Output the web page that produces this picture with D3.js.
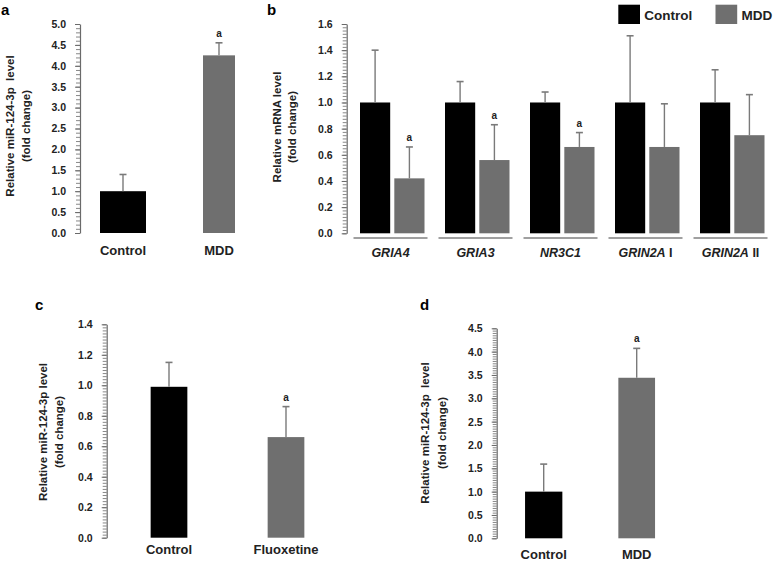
<!DOCTYPE html>
<html><head><meta charset="utf-8">
<script src="https://cdn.jsdelivr.net/npm/d3@7"></script>
<style>
html,body{margin:0;padding:0;background:#fff;}
svg{display:block;font-family:"Liberation Sans",Arial,sans-serif;}
</style></head>
<body>
<svg id="chart" width="779" height="561"></svg>
<script>
// ---------- DATA ----------
// Panel a
const aCategories = ["Control", "MDD"];
const aValues = [1.00, 4.25];
const aErrors = [0.40, 0.30];
const aSignif = [false, true];
const aTicks = [0, 0.5, 1.0, 1.5, 2.0, 2.5, 3.0, 3.5, 4.0, 4.5, 5.0];

// Panel b
const bGenes = ["GRIA4", "GRIA3", "NR3C1", "GRIN2A I", "GRIN2A II"];
const bGeneItalic = ["GRIA4", "GRIA3", "NR3C1", "GRIN2A", "GRIN2A"];
const bGeneSuffix = ["", "", "", " I", " II"];
const bSeries = ["Control", "MDD"];
const bControl = [1.00, 1.00, 1.00, 1.00, 1.00];
const bControlErr = [0.40, 0.16, 0.08, 0.51, 0.25];
const bMDD = [0.42, 0.56, 0.66, 0.66, 0.75];
const bMDDErr = [0.24, 0.27, 0.11, 0.33, 0.31];
const bSignif = [true, true, true, false, false];
const bTicks = [0, 0.2, 0.4, 0.6, 0.8, 1.0, 1.2, 1.4, 1.6];

// Panel c
const cCategories = ["Control", "Fluoxetine"];
const cValues = [0.99, 0.66];
const cErrors = [0.16, 0.20];
const cSignif = [false, true];
const cTicks = [0, 0.2, 0.4, 0.6, 0.8, 1.0, 1.2, 1.4];

// Panel d
const dCategories = ["Control", "MDD"];
const dValues = [1.00, 3.44];
const dErrors = [0.59, 0.63];
const dSignif = [false, true];
const dTicks = [0, 0.5, 1.0, 1.5, 2.0, 2.5, 3.0, 3.5, 4.0, 4.5];

const yTitleMiR = ["Relative miR-124-3p  level", "(fold change)"];
const yTitleMiRc = ["Relative miR-124-3p level", "(fold change)"];
const yTitleMRNA = ["Relative mRNA level", "(fold change)"];

// ---------- STYLE ----------
const FONT = "'Liberation Sans', Arial, sans-serif";
const TXT = "#222222";
const BLACK = "#000000";
const GRAY = "#6f6f6f";
const ERR = "#7a7a7a";
const AXIS = "#6a6a6a";
const colors = {Control: BLACK, MDD: GRAY, Fluoxetine: GRAY};

const svg = d3.select("#chart");

function drawYAxis(x0, y, ticks, minorStep, fontSize) {
  const top = d3.max(ticks);
  const minors = d3.range(0, top + minorStep / 2, minorStep);
  const g = svg.append("g").attr("transform", `translate(${x0},0)`);
  g.call(d3.axisLeft(y).tickValues(minors).tickSize(4).tickSizeOuter(0).tickFormat(""));
  g.selectAll("path.domain").attr("stroke", AXIS).attr("stroke-width", 1.2);
  g.selectAll(".tick line").attr("stroke", AXIS).attr("stroke-width", 0.8);
  const g2 = svg.append("g").attr("transform", `translate(${x0},0)`);
  g2.call(d3.axisLeft(y).tickValues(ticks).tickSize(5).tickPadding(9).tickSizeOuter(0).tickFormat(d3.format(".1f")));
  g2.select("path.domain").remove();
  g2.selectAll(".tick line").attr("stroke", AXIS).attr("stroke-width", 1);
  g2.selectAll(".tick text").attr("fill", TXT).attr("font-size", fontSize).attr("font-weight", "bold")
    .attr("font-family", FONT);
}

function drawYTitle(lines, x1, x2, cy, fontSize) {
  [x1, x2].forEach((x, i) => {
    svg.append("text")
      .attr("transform", `translate(${x},${cy}) rotate(-90)`)
      .attr("text-anchor", "middle").attr("dominant-baseline", "central")
      .attr("fill", TXT).attr("font-size", fontSize).attr("font-weight", "bold")
      .style("white-space", "pre")
      .text(lines[i]);
  });
}

function errorBar(cx, yTop, yErr, cap) {
  svg.append("line").attr("x1", cx).attr("x2", cx).attr("y1", yTop).attr("y2", yErr)
    .attr("stroke", ERR).attr("stroke-width", 1.4);
  svg.append("line").attr("x1", cx - cap / 2).attr("x2", cx + cap / 2).attr("y1", yErr).attr("y2", yErr)
    .attr("stroke", ERR).attr("stroke-width", 1.6);
}

function sigMark(cx, yErr) {
  svg.append("text").attr("x", cx).attr("y", yErr - 6).attr("text-anchor", "middle")
    .attr("fill", TXT).attr("font-size", 10).attr("font-weight", "bold").text("a");
}

function panelLabel(t, x, y) {
  svg.append("text").attr("x", x).attr("y", y).attr("fill", BLACK)
    .attr("font-size", 15).attr("font-weight", "bold").text(t);
}

function simplePanel(cfg) {
  const y = d3.scaleLinear().domain([0, d3.max(cfg.ticks)]).range([cfg.y0, cfg.yTop]);
  const x = d3.scalePoint().domain(cfg.cats).range(cfg.xRange);
  drawYAxis(cfg.axisX, y, cfg.ticks, cfg.minor, cfg.tickFont);
  cfg.cats.forEach((c, i) => {
    const cx = x(c), w = cfg.widths[i];
    svg.append("rect").attr("x", cx - w / 2).attr("y", y(cfg.vals[i]))
      .attr("width", w).attr("height", y(0) - y(cfg.vals[i]))
      .attr("fill", colors[c]);
    errorBar(cx, y(cfg.vals[i]), y(cfg.vals[i] + cfg.errs[i]), 7);
    if (cfg.sig[i]) sigMark(cx, y(cfg.vals[i] + cfg.errs[i]));
    svg.append("text").attr("x", cx + (cfg.labelDx || 0)).attr("y", cfg.labelY).attr("text-anchor", "middle")
      .attr("fill", TXT).attr("font-size", cfg.catFont).attr("font-weight", "bold").text(c);
  });
  drawYTitle(cfg.title, cfg.titleX[0], cfg.titleX[1], cfg.titleCY, cfg.titleFont);
}

// ---------- PANEL a ----------
panelLabel("a", 1, 15);
simplePanel({cats: aCategories, vals: aValues, errs: aErrors, sig: aSignif, ticks: aTicks,
  y0: 233, yTop: 24, axisX: 80, minor: 0.1, xRange: [123, 219], widths: [46, 32],
  labelY: 255, catFont: 13, tickFont: 10.5, title: yTitleMiR, titleX: [10, 26], titleCY: 126, titleFont: 11.5});

// ---------- PANEL b ----------
panelLabel("b", 267, 15);
(function () {
  const y = d3.scaleLinear().domain([0, 1.6]).range([233.3, 24]);
  const x0 = d3.scaleBand().domain(bGenes).range([350, 775]).paddingInner(0).paddingOuter(0);
  const x1 = d3.scaleBand().domain(bSeries).range([10, 74.5]).paddingInner(0.12);
  drawYAxis(346.7, y, bTicks, 0.025, 10.5);
  const seriesVals = {Control: bControl, MDD: bMDD};
  const seriesErr = {Control: bControlErr, MDD: bMDDErr};
  bGenes.forEach((gname, i) => {
    const gx = x0(gname);
    bSeries.forEach(s => {
      const v = seriesVals[s][i], e = seriesErr[s][i];
      const bx = gx + x1(s), bw = x1.bandwidth();
      svg.append("rect").attr("x", bx).attr("y", y(v)).attr("width", bw).attr("height", y(0) - y(v))
        .attr("fill", colors[s]);
      errorBar(bx + bw / 2, y(v), y(v + e), 7);
      if (s === "MDD" && bSignif[i]) sigMark(bx + bw / 2, y(v + e));
    });
    const gc = gx + x0.bandwidth() / 2 - 2;
    svg.append("line").attr("x1", gc - 37).attr("x2", gc + 37).attr("y1", 238).attr("y2", 238)
      .attr("stroke", "#808080").attr("stroke-width", 1.6);
    const t = svg.append("text").attr("x", gc).attr("y", 256.5).attr("text-anchor", "middle")
      .attr("fill", TXT).attr("font-size", 12.5).attr("font-weight", "bold");
    t.append("tspan").attr("font-style", "italic").text(bGeneItalic[i]);
    if (bGeneSuffix[i]) t.append("tspan").style("white-space", "pre").text(bGeneSuffix[i]);
  });
  drawYTitle(yTitleMRNA, 277, 292, 127, 11.5);
  // legend
  const leg = [{s: "Control", x: 618.3}, {s: "MDD", x: 715.5}];
  leg.forEach(l => {
    svg.append("rect").attr("x", l.x).attr("y", 4.7).attr("width", 21.7).attr("height", 19.3).attr("fill", colors[l.s]);
    svg.append("text").attr("x", l.x + 26).attr("y", 19.5).attr("fill", TXT)
      .attr("font-size", 13.5).attr("font-weight", "bold").text(l.s);
  });
})();

// ---------- PANEL c ----------
panelLabel("c", 35, 310);
simplePanel({cats: cCategories, vals: cValues, errs: cErrors, sig: cSignif, ticks: cTicks,
  y0: 537.7, yTop: 324.3, axisX: 106.7, minor: 0.02, xRange: [169, 286], widths: [36.7, 36.7],
  labelY: 553.5, catFont: 13, tickFont: 10.5, title: yTitleMiRc, titleX: [43, 59], titleCY: 432, titleFont: 11.5});

// ---------- PANEL d ----------
panelLabel("d", 420, 310);
simplePanel({cats: dCategories, vals: dValues, errs: dErrors, sig: dSignif, ticks: dTicks,
  y0: 538.3, yTop: 328.3, axisX: 496.7, minor: 0.05, xRange: [543.7, 636.7], widths: [37.3, 36.7],
  labelY: 559, catFont: 13, tickFont: 10.5, title: yTitleMiR, titleX: [425, 442], titleCY: 433, titleFont: 11.5});
</script>
</body></html>
